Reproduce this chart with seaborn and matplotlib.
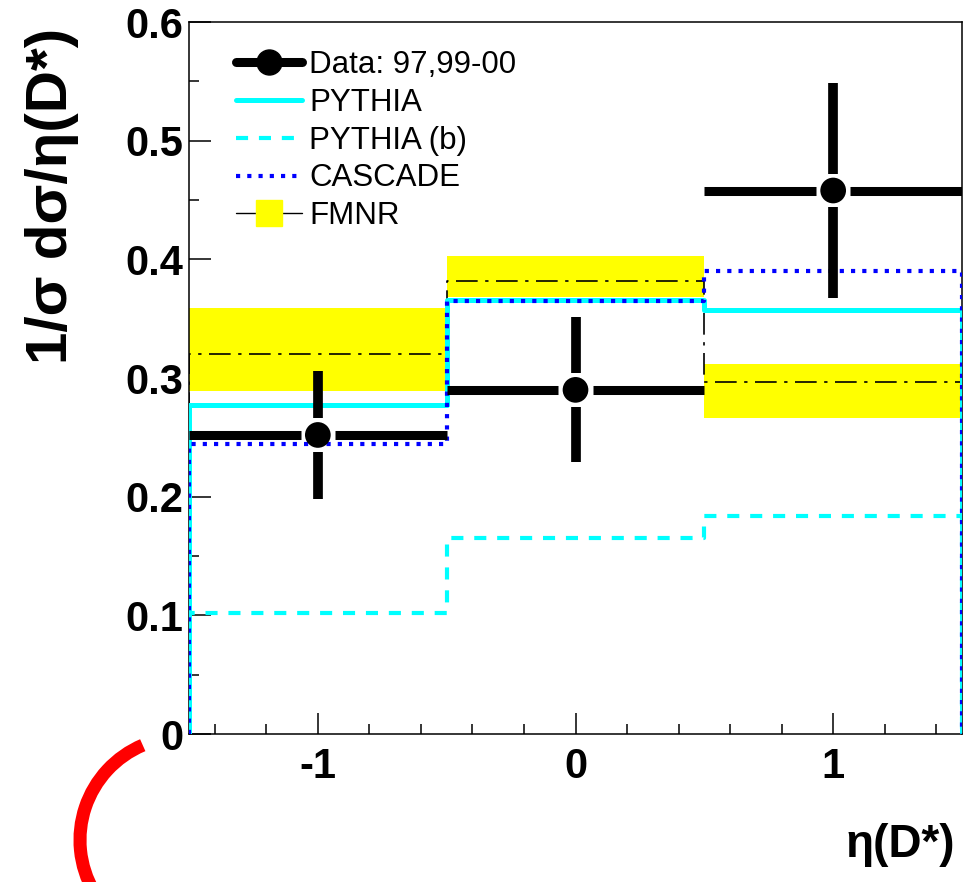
import matplotlib
matplotlib.use("Agg")
import matplotlib.pyplot as plt
from matplotlib.lines import Line2D
from matplotlib.patches import Arc
from matplotlib.ticker import MultipleLocator
import seaborn as sns
import pandas as pd

# ---------------- data ----------------
bin_edges = [-1.5, -0.5, 0.5, 1.5]
data_x = [-1.0, 0.0, 1.0]
data_y = [0.252, 0.290, 0.458]
data_err = [0.054, 0.061, 0.091]
bin_half = [0.5, 0.5, 0.5]

pythia = [0.277, 0.366, 0.357]
pythia_b = [0.102, 0.165, 0.184]
cascade = [0.244, 0.365, 0.390]
fmnr = [0.320, 0.382, 0.297]
fmnr_lo = [0.289, 0.368, 0.266]
fmnr_hi = [0.359, 0.403, 0.312]

xtick_vals = [-1, 0, 1]
xtick_labels = ["-1", "0", "1"]
ytick_vals = [0.0, 0.1, 0.2, 0.3, 0.4, 0.5, 0.6]
ytick_labels = ["0", "0.1", "0.2", "0.3", "0.4", "0.5", "0.6"]

legend_labels = ["Data: 97,99-00", "PYTHIA", "PYTHIA (b)", "CASCADE", "FMNR"]

# ---------------- style ----------------
sns.set_style("ticks")
plt.rcParams["font.family"] = ["Liberation Sans", "DejaVu Sans"]
plt.rcParams["axes.unicode_minus"] = False
for key in ["text.color", "axes.labelcolor", "xtick.color", "ytick.color",
            "axes.edgecolor"]:
    plt.rcParams[key] = "black"

W, H = 976, 882
fig = plt.figure(figsize=(W / 100, H / 100), dpi=100)
x0, x1, y0, y1 = 189, 962, 22, 734
ax = fig.add_axes([x0 / W, 1 - y1 / H, (x1 - x0) / W, (y1 - y0) / H])
ax.set_xlim(-1.5, 1.5)
ax.set_ylim(0, 0.6)


def step_frame(vals):
    xs = [bin_edges[0]] + list(bin_edges) + [bin_edges[-1]]
    ys = [0.0] + list(vals) + [vals[-1], 0.0]
    return pd.DataFrame({"x": xs, "y": ys})


# FMNR band
band_x = list(bin_edges)
ax.fill_between(band_x, list(fmnr_lo) + [fmnr_lo[-1]], list(fmnr_hi) + [fmnr_hi[-1]],
                step="post", color="#ffff00", lw=0, zorder=1)

# step histograms
sns.lineplot(data=step_frame(fmnr), x="x", y="y", sort=False, estimator=None, ax=ax,
             drawstyle="steps-post", color="black", lw=1.2,
             linestyle=(0, (13, 4.5, 2, 4.5)), zorder=2)
sns.lineplot(data=step_frame(pythia), x="x", y="y", sort=False, estimator=None, ax=ax,
             drawstyle="steps-post", color="#00ffff", lw=3.6, zorder=3)
sns.lineplot(data=step_frame(pythia_b), x="x", y="y", sort=False, estimator=None, ax=ax,
             drawstyle="steps-post", color="#00ffff", lw=3.0,
             linestyle=(0, (2.9, 2.6)), zorder=3)
sns.lineplot(data=step_frame(cascade), x="x", y="y", sort=False, estimator=None, ax=ax,
             drawstyle="steps-post", color="#0000ff", lw=3.0,
             linestyle=(0, (1.0, 1.7)), zorder=4)

# data points with ROOT-like error bars (gap around marker)
gx, gy = 0.066, 0.0143
for xv, yv, ev, hw in zip(data_x, data_y, data_err, bin_half):
    ax.hlines([yv, yv], [xv - hw, xv + gx], [xv - gx, xv + hw], color="black",
              lw=6.5, zorder=5, capstyle="butt")
    ax.vlines([xv, xv], [yv - ev, yv + gy], [yv - gy, yv + ev], color="black",
              lw=7.0, zorder=5, capstyle="butt")
sns.scatterplot(x=data_x, y=data_y, ax=ax, color="black", s=18.5 ** 2,
                edgecolor="none", zorder=6)

# axes cosmetics
for sp in ax.spines.values():
    sp.set_visible(True)
    sp.set_linewidth(1.1)
    sp.set_color("black")
ax.set_xticks(xtick_vals)
ax.set_xticklabels(xtick_labels)
ax.set_yticks(ytick_vals)
ax.set_yticklabels(ytick_labels)
ax.xaxis.set_minor_locator(MultipleLocator(0.2))
ax.yaxis.set_minor_locator(MultipleLocator(0.05))
ax.tick_params(axis="x", which="major", direction="in", length=15, width=1.1,
               labelsize=30, pad=9, colors="black")
ax.tick_params(axis="x", which="minor", direction="in", length=7.5, width=1.1,
               colors="black")
ax.tick_params(axis="y", which="major", direction="in", length=16, width=1.1,
               labelsize=30, pad=4, colors="black")
ax.tick_params(axis="y", which="minor", direction="in", length=7.5, width=1.1,
               colors="black")
ax.tick_params(top=False, right=False, which="both")
for lab in ax.get_xticklabels() + ax.get_yticklabels():
    lab.set_fontweight("bold")
    lab.set_color("black")

ax.set_xlabel("\u03b7(D*)", fontsize=33, fontweight="bold", color="black")
ax.xaxis.label.set_ha("center")
ax.xaxis.label.set_va("center")
ax.xaxis.set_label_coords((900 - x0) / (x1 - x0), (y1 - 845) / (y1 - y0))
ax.set_ylabel("1/\u03c3 d\u03c3/\u03b7(D*)", fontsize=42, fontweight="bold",
              color="black")
ax.yaxis.label.set_ha("center")
ax.yaxis.label.set_va("center")
ax.yaxis.set_label_coords((52 - x0) / (x1 - x0), (y1 - 196) / (y1 - y0))

# legend
handles = [
    Line2D([], [], color="black", lw=6.5, marker="o", markersize=18),
    Line2D([], [], color="#00ffff", lw=3.6),
    Line2D([], [], color="#00ffff", lw=3.0, linestyle=(0, (2.9, 2.6))),
    Line2D([], [], color="#0000ff", lw=3.0, linestyle=(0, (1.0, 1.7))),
    Line2D([], [], color="black", lw=1.0, marker="s", markersize=19,
           markerfacecolor="#ffff00", markeredgecolor="#ffff00"),
]
leg = ax.legend(handles, legend_labels, loc="upper left", frameon=False,
                bbox_to_anchor=((236 - x0) / (x1 - x0), (y1 - 50) / (y1 - y0)),
                borderaxespad=0, borderpad=0, fontsize=22.5, handlelength=2.1,
                handletextpad=0.24, labelspacing=0.25)
for t in leg.get_texts():
    t.set_color("black")

# red arc decoration (pixel coordinates)
ov = fig.add_axes([0, 0, 1, 1], zorder=10)
ov.set_xlim(0, W)
ov.set_ylim(H, 0)
ov.axis("off")
ov.patch.set_alpha(0)
ov.add_patch(Arc((183, 840), 206, 206, theta1=150, theta2=247, color="#ff0000",
                 lw=9.4, capstyle="butt"))

fig.savefig("out.png", dpi=100)
